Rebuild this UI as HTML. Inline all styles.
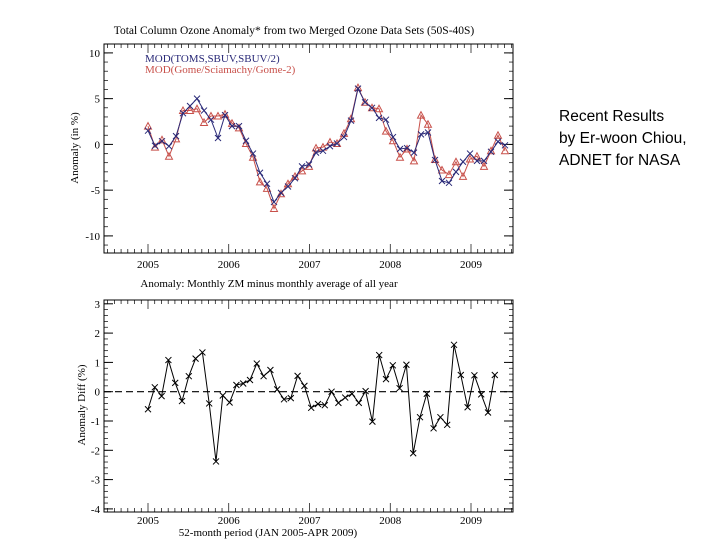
<!DOCTYPE html>
<html><head><meta charset="utf-8"><style>
html,body{margin:0;padding:0;background:#fff;}
#wrap{position:relative;width:720px;height:540px;overflow:hidden;}
svg{position:absolute;left:0;top:0;}
.note{position:absolute;left:559px;top:106px;font-family:"Liberation Sans",sans-serif;font-size:15.5px;line-height:22px;color:#000;}
</style></head><body>
<div id="wrap">
<svg id="chart" width="720" height="540"></svg>
<div class="note">Recent Results<br>by Er-woon Chiou,<br>ADNET for NASA</div>
</div>
<script>
const yearLabels = ["2005","2006","2007","2008","2009"];
const topTicks = [10,5,0,-5,-10];
const bottomTicks = [3,2,1,0,-1,-2,-3,-4];
const tomsSeries = [1.5,-0.15,0.35,-0.2,0.9,3.4,4.2,5.0,3.7,2.7,0.7,3.2,2.0,2.0,0.4,-1.0,-3.1,-4.3,-6.3,-5.3,-4.6,-3.7,-2.4,-2.2,-0.9,-0.7,-0.2,0.1,0.8,2.6,6.1,4.6,4.0,2.9,2.7,0.8,-0.5,-0.4,-0.9,1.1,1.3,-1.7,-4.0,-4.2,-3.0,-1.9,-1.0,-1.8,-1.8,-0.8,0.3,-0.1];
const gomeSeries = [2.0,-0.3,0.5,-1.3,0.6,3.7,3.7,3.9,2.4,3.1,3.1,3.3,2.3,1.8,0.1,-1.4,-4.1,-4.8,-7.0,-5.4,-4.3,-3.5,-2.9,-2.4,-0.4,-0.3,0.25,0.1,1.2,2.8,6.2,4.6,4.0,3.9,1.45,0.4,-1.4,-0.5,-1.8,3.2,2.2,-1.65,-2.8,-3.3,-1.9,-3.5,-1.6,-1.3,-2.4,-0.7,1.0,-0.7];
const diffSeries = [-0.6,0.15,-0.15,1.08,0.3,-0.32,0.53,1.13,1.34,-0.4,-2.38,-0.13,-0.37,0.23,0.28,0.4,0.96,0.53,0.74,0.08,-0.26,-0.22,0.54,0.2,-0.55,-0.42,-0.46,0.0,-0.38,-0.2,-0.07,-0.38,0.02,-1.02,1.25,0.43,0.9,0.12,0.92,-2.1,-0.87,-0.07,-1.25,-0.87,-1.13,1.6,0.57,-0.53,0.56,-0.09,-0.71,0.57];

const svg = document.getElementById('chart');
const NS = 'http://www.w3.org/2000/svg';
function mk(tag, attrs, parent){const e=document.createElementNS(NS,tag);for(const k in attrs)e.setAttribute(k,attrs[k]);(parent||svg).appendChild(e);return e;}
function txt(s,x,y,size,anchor,fill,rot){const t=mk('text',{x:x,y:y,'font-family':'Liberation Serif, serif','font-size':size,'text-anchor':anchor||'middle',fill:fill||'#000'});if(rot)t.setAttribute('transform','rotate(-90 '+x+' '+y+')');t.textContent=s;return t;}

const L=104,R=513;
function yearX(k){return 148+k*80.75;}
const topY=v=>144.4-v*9.15;
const topX=i=>148+i*7.0;
const botY=v=>391.7-v*29.3;
const botX=i=>148+i*6.8;

function frame(top,bottom,yfn,ticks,minorStep,ymin,ymax,name,labOff){
  const g=mk('g',{});
  
  
  mk('rect',{x:L,y:top,width:R-L,height:bottom-top,fill:'none',stroke:'#000','stroke-width':1},g);
  for(let v=ymin;v<=ymax+1e-9;v+=minorStep){const y=yfn(v);if(y<top||y>bottom)continue;mk('line',{x1:L,x2:L+4,y1:y,y2:y,stroke:'#000','stroke-width':0.7},g);mk('line',{x1:R,x2:R-4,y1:y,y2:y,stroke:'#000','stroke-width':0.7},g);}
  ticks.forEach(v=>{const y=yfn(v);mk('line',{x1:L,x2:L+9,y1:y,y2:y,stroke:'#000'},g);mk('line',{x1:R,x2:R-9,y1:y,y2:y,stroke:'#000'},g);const t=txt(String(v),L-4,y+4,11,'end');});
  for(let m=-6;m<=60;m++){const x=148+m*80.75/12;if(x<=L||x>=R)continue;const len=(m%12===0)?9:4;mk('line',{x1:x,x2:x,y1:bottom,y2:bottom-len,stroke:'#000','stroke-width':0.7},g);mk('line',{x1:x,x2:x,y1:top,y2:top+len,stroke:'#000','stroke-width':0.7},g);}
  yearLabels.forEach((s,k)=>{const t=txt(s,yearX(k),bottom+labOff,11,'middle');});
}

// Top chart
frame(44,253,topY,topTicks,1,-12,11,'top-anomaly-plot',15);
let t=txt('Total Column Ozone Anomaly* from two Merged Ozone Data Sets  (50S-40S)',294,34,11.5);

t=txt('Anomaly (in %)',78,148,11,'middle','#000',true);

t=txt('Anomaly: Monthly ZM minus monthly average of all year',269,287,11);

t=txt('MOD(TOMS,SBUV,SBUV/2)',145,62,11,'start','#2a2a78');

t=txt('MOD(Gome/Sciamachy/Gome-2)',145,73,11,'start','#c8504a');


const blue='#2a2a78',red='#c8504a';
let p=mk('polyline',{points:gomeSeries.map((v,i)=>topX(i)+','+topY(v)).join(' '),fill:'none',stroke:red,'stroke-width':1});

gomeSeries.forEach((v,i)=>{const x=topX(i),y=topY(v);const m=mk('polygon',{points:(x)+','+(y-3.5)+' '+(x-3.5)+','+(y+3)+' '+(x+3.5)+','+(y+3),fill:'none',stroke:red,'stroke-width':1});
});
p=mk('polyline',{points:tomsSeries.map((v,i)=>topX(i)+','+topY(v)).join(' '),fill:'none',stroke:blue,'stroke-width':1});

tomsSeries.forEach((v,i)=>{const x=topX(i),y=topY(v);const m=mk('path',{d:'M'+(x-3)+' '+(y-3)+'L'+(x+3)+' '+(y+3)+'M'+(x-3)+' '+(y+3)+'L'+(x+3)+' '+(y-3),stroke:blue,'stroke-width':1});
});

// Bottom chart
frame(300,512,botY,bottomTicks,0.2,-4,3.2,'bottom-diff-plot',12);
t=txt('Anomaly Diff (%)',85,405,11,'middle','#000',true);

t=txt('52-month period (JAN 2005-APR 2009)',268,536,11);

p=mk('line',{x1:L,x2:R,y1:botY(0),y2:botY(0),stroke:'#000','stroke-width':1.2,'stroke-dasharray':'7,4'});

p=mk('polyline',{points:diffSeries.map((v,i)=>botX(i)+','+botY(v)).join(' '),fill:'none',stroke:'#000','stroke-width':1});

diffSeries.forEach((v,i)=>{const x=botX(i),y=botY(v);const m=mk('path',{d:'M'+(x-3)+' '+(y-3)+'L'+(x+3)+' '+(y+3)+'M'+(x-3)+' '+(y+3)+'L'+(x+3)+' '+(y-3),stroke:'#000','stroke-width':1});
});
</script>
</body></html>
